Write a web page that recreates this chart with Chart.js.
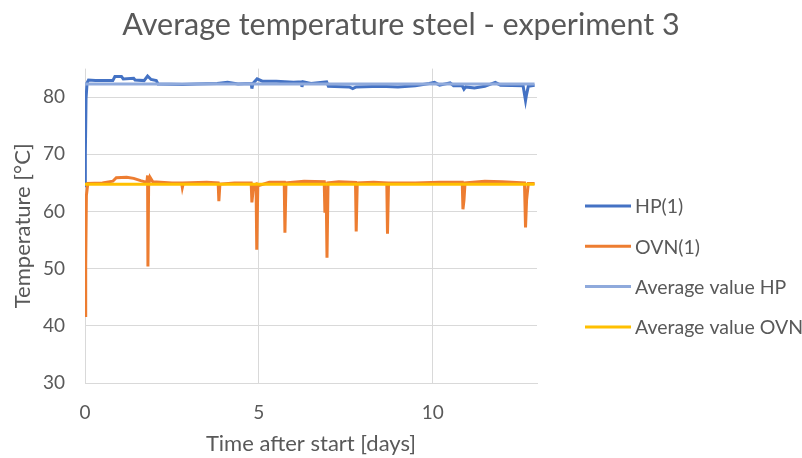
<!DOCTYPE html>
<html>
<head>
<meta charset="utf-8">
<script src="https://cdn.jsdelivr.net/npm/chart.js@4.4.1/dist/chart.umd.min.js"></script>
<style>
  body { margin: 0; background: #fff; }
  #wrap { width: 802px; height: 458px; }
</style>
</head>
<body>
<div id="wrap"><canvas id="chart" width="802" height="458"></canvas></div>
<script>
// Days after start and measured temperature, HP(1)
const hpDays = [0, 0.01, 0.03, 0.06, 0.1, 0.3, 0.8, 0.86, 1.05, 1.1, 1.4, 1.44, 1.7, 1.8, 1.9, 2.05, 2.1, 2.8, 3.2, 3.8, 4.1, 4.4, 4.78, 4.8, 4.83, 4.95, 5.1, 5.5, 6.0, 6.22, 6.24, 6.27, 6.5, 6.95, 7.0, 7.6, 7.7, 7.8, 8.5, 9.0, 9.5, 9.9, 10.05, 10.2, 10.5, 10.6, 10.85, 10.9, 10.95, 11.2, 11.5, 11.8, 11.95, 12.6, 12.67, 12.7, 12.75, 12.93];
const hpTemp = [64.5, 70, 79.8, 82.5, 83.0, 82.9, 82.9, 83.6, 83.6, 83.2, 83.3, 83.0, 82.9, 83.7, 83.1, 82.9, 82.3, 82.2, 82.3, 82.4, 82.6, 82.3, 82.4, 81.5, 82.4, 83.2, 82.8, 82.8, 82.6, 82.7, 81.8, 82.7, 82.4, 82.7, 81.9, 81.8, 81.5, 81.8, 81.9, 81.8, 82.0, 82.4, 82.6, 82.1, 82.5, 82.0, 82.0, 81.4, 81.8, 81.6, 81.9, 82.6, 82.1, 82.0, 79.4, 80.5, 81.9, 82.1];

// OVN(1)
const ovnDays = [0, 0.02, 0.04, 0.08, 0.5, 0.8, 0.9, 1.2, 1.4, 1.6, 1.78, 1.8, 1.81, 1.83, 1.87, 1.95, 2.5, 2.78, 2.8, 2.83, 3.5, 3.83, 3.85, 3.88, 4.3, 4.78, 4.8, 4.85, 4.92, 4.94, 4.97, 5.3, 5.73, 5.75, 5.78, 6.3, 6.88, 6.9, 6.94, 6.96, 6.99, 7.3, 7.78, 7.8, 7.83, 8.3, 8.68, 8.7, 8.73, 9.5, 10.2, 10.85, 10.87, 10.9, 10.93, 11.5, 12.0, 12.64, 12.67, 12.7, 12.75, 12.93];
const ovnTemp = [41.8, 50.5, 62.8, 64.9, 65.0, 65.3, 65.9, 66.0, 65.8, 65.4, 65.1, 66.3, 50.4, 64.5, 66.0, 65.2, 65.0, 65.0, 64.2, 65.0, 65.1, 65.0, 61.8, 64.8, 65.0, 65.0, 61.6, 64.6, 64.8, 53.3, 64.5, 65.1, 65.1, 56.3, 65.0, 65.3, 65.2, 59.8, 62.0, 51.9, 65.0, 65.2, 65.1, 56.5, 65.0, 65.1, 65.0, 56.1, 65.0, 65.0, 65.1, 65.1, 60.4, 62.0, 65.0, 65.3, 65.2, 65.0, 57.2, 62.0, 64.9, 64.9];

// Average values
const avgDays = [0, 12.93];
const avgHp = [82.3, 82.3];
const avgOvn = [64.75, 64.75];

const xTicks = [0, 5, 10];
const yTicks = [30, 40, 50, 60, 70, 80];

const grey = "#595959";
const font = "Lato";

function pts(xs, ys) {
  return xs.map((x, i) => ({ x: x, y: ys[i] }));
}

function series(label, xs, ys, color, order) {
  return {
    label: label,
    data: pts(xs, ys),
    borderColor: color,
    backgroundColor: color,
    borderWidth: 3,
    pointRadius: 0,
    tension: 0,
    order: order
  };
}

// Legend drawn by hand so it can sit exactly where Excel put it
const sideLegend = {
  id: "sideLegend",
  afterDraw(chart) {
    const ctx = chart.ctx;
    const rowTop = 206, rowGap = 40.3;
    ctx.save();
    ctx.font = "19.5px " + font;
    ctx.textBaseline = "middle";
    ctx.fillStyle = grey;
    chart.data.datasets.forEach((ds, i) => {
      const y = rowTop + i * rowGap;
      ctx.beginPath();
      ctx.moveTo(585, y);
      ctx.lineTo(631, y);
      ctx.lineWidth = ds.borderWidth;
      ctx.strokeStyle = ds.borderColor;
      ctx.stroke();
      ctx.fillText(ds.label, 635, y + 1);
    });
    ctx.restore();
  }
};

new Chart(document.getElementById("chart"), {
  type: "line",
  data: {
    datasets: [
      series("HP(1)", hpDays, hpTemp, "#4472C4", 3),
      series("OVN(1)", ovnDays, ovnTemp, "#ED7D31", 2),
      series("Average value HP", avgDays, avgHp, "#8FAADC", 1),
      series("Average value OVN", avgDays, avgOvn, "#FFC000", 0)
    ]
  },
  options: {
    responsive: false,
    animation: false,
    layout: { padding: 0 },
    plugins: {
      tooltip: { enabled: false },
      legend: { display: false },
      title: {
        display: true,
        text: "Average temperature steel - experiment 3",
        color: grey,
        font: { family: font, size: 30.5, weight: "normal" },
        padding: { top: 7, bottom: 25 }
      }
    },
    scales: {
      x: {
        type: "linear",
        min: 0,
        max: 13,
        afterBuildTicks: axis => { axis.ticks = xTicks.map(v => ({ value: v })); },
        afterFit: axis => { axis.height = 75; },
        grid: { color: "#D9D9D9", drawTicks: false, lineWidth: 1 },
        border: { color: "#D9D9D9" },
        ticks: { color: grey, font: { family: font, size: 19 }, padding: 18, maxRotation: 0 },
        title: {
          display: true,
          text: "Time after start [days]",
          color: grey,
          font: { family: font, size: 22 },
          padding: { top: 2, bottom: 1 }
        }
      },
      y: {
        min: 30,
        max: 85,
        afterBuildTicks: axis => { axis.ticks = yTicks.map(v => ({ value: v })); },
        afterFit: axis => { axis.width = 85; },
        grid: { color: "#D9D9D9", drawTicks: false, lineWidth: 1 },
        border: { display: false },
        ticks: { color: grey, font: { family: font, size: 19 }, padding: 20 },
        title: {
          display: true,
          text: "Temperature [°C]",
          color: grey,
          font: { family: font, size: 22 },
          padding: { top: 10, bottom: 2 }
        }
      },
      // empty axis on the right that only reserves room for the legend
      legendSpace: {
        type: "linear",
        position: "right",
        afterFit: axis => { axis.width = 265; },
        grid: { display: false },
        border: { display: false },
        ticks: { display: false }
      }
    }
  },
  plugins: [sideLegend]
});
</script>
</body>
</html>
